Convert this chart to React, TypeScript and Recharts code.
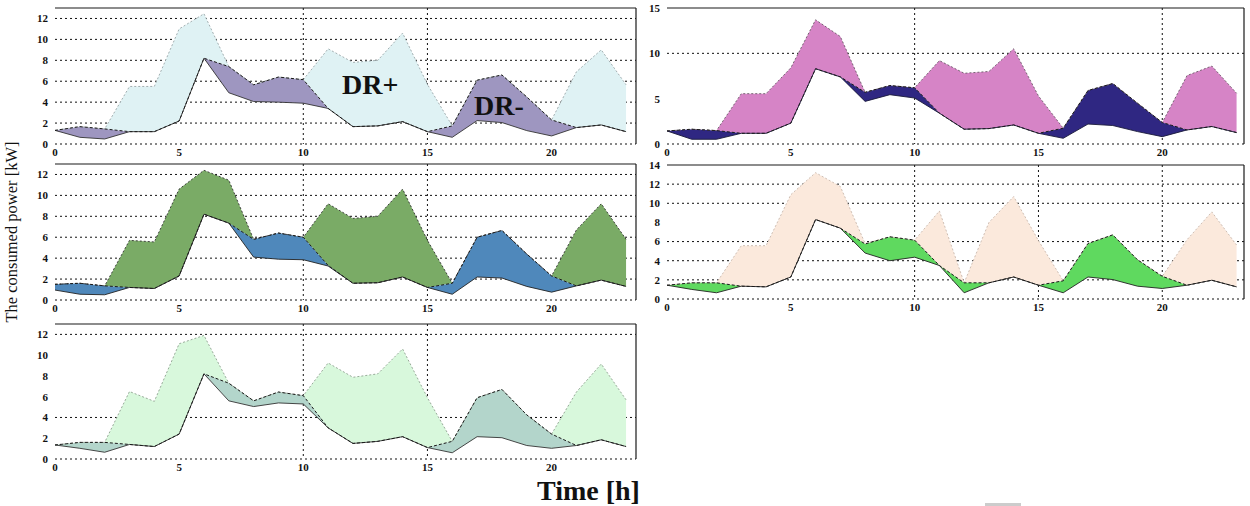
import { Area, CartesianGrid, ComposedChart, Line, ReferenceLine, XAxis, YAxis } from "recharts";

const SERIF = "'Liberation Serif', 'DejaVu Serif', serif";

const hours = [0, 1, 2, 3, 4, 5, 6, 7, 8, 9, 10, 11, 12, 13, 14, 15, 16, 17, 18, 19, 20, 21, 22, 23];
const xTicks = [0, 5, 10, 15, 20];

// panel 1 (top left) - base load, load with DR+, load with DR-
const p1Base = [1.3, 1.66, 1.44, 1.18, 1.18, 2.2, 8.2, 7.4, 5.66, 6.4, 6.15, 3.4, 1.66, 1.73, 2.14, 1.18, 1.73, 6.1, 6.6, 4.5, 2.3, 1.57, 1.82, 1.18];
const p1Up = [1.3, 1.66, 1.44, 5.5, 5.5, 11.0, 12.45, 7.4, 5.66, 6.4, 6.15, 9.1, 7.8, 8.0, 10.6, 5.7, 1.73, 6.1, 6.6, 4.5, 2.3, 6.9, 9.0, 5.66];
const p1Down = [1.3, 0.64, 0.48, 1.18, 1.18, 2.2, 8.2, 4.9, 4.06, 4.0, 3.9, 3.4, 1.66, 1.73, 2.14, 1.18, 0.64, 2.24, 2.05, 1.28, 0.77, 1.57, 1.82, 1.18];

// panel 2 (top right)
const p2Base = [1.44, 1.63, 1.48, 1.18, 1.18, 2.3, 8.3, 7.4, 5.7, 6.45, 6.2, 3.4, 1.63, 1.7, 2.1, 1.18, 1.74, 5.9, 6.67, 4.5, 2.37, 1.55, 1.93, 1.26];
const p2Up = [1.44, 1.63, 1.48, 5.55, 5.55, 8.4, 13.7, 11.85, 5.7, 6.45, 6.2, 9.2, 7.8, 8.0, 10.5, 5.3, 1.74, 5.9, 6.67, 4.5, 2.37, 7.55, 8.6, 5.6];
const p2Down = [1.44, 0.52, 0.52, 1.18, 1.18, 2.3, 8.3, 7.4, 4.7, 5.44, 5.07, 3.4, 1.63, 1.7, 2.1, 1.18, 0.63, 2.2, 2.04, 1.37, 0.81, 1.55, 1.93, 1.26];

// panel 3 (middle left)
const p3Base = [1.5, 1.6, 1.35, 1.2, 1.1, 2.3, 8.2, 7.35, 5.8, 6.4, 6.0, 3.3, 1.6, 1.65, 2.2, 1.2, 1.6, 6.0, 6.65, 4.4, 2.3, 1.35, 1.9, 1.3];
const p3Up = [1.5, 1.6, 1.35, 5.7, 5.55, 10.6, 12.4, 11.45, 5.8, 6.4, 6.0, 9.2, 7.8, 8.0, 10.6, 5.7, 1.6, 6.0, 6.65, 4.4, 2.3, 6.7, 9.2, 5.8];
const p3Down = [0.95, 0.55, 0.5, 1.2, 1.1, 2.3, 8.2, 7.35, 4.1, 3.9, 3.85, 3.25, 1.6, 1.65, 2.2, 1.2, 0.55, 2.2, 2.1, 1.3, 0.75, 1.35, 1.9, 1.3];

// panel 4 (middle right)
const p4Base = [1.44, 1.69, 1.69, 1.34, 1.27, 2.3, 8.3, 7.4, 5.75, 6.5, 6.15, 3.5, 1.69, 1.69, 2.3, 1.44, 1.9, 5.8, 6.7, 4.1, 2.37, 1.44, 1.96, 1.27];
const p4Up = [1.44, 1.69, 1.69, 5.57, 5.57, 10.9, 13.2, 11.75, 5.8, 6.5, 6.15, 9.2, 1.69, 8.0, 10.7, 6.1, 1.9, 5.8, 6.7, 4.1, 2.37, 6.2, 9.1, 5.64];
const p4Down = [1.44, 1.0, 0.65, 1.34, 1.27, 2.3, 8.3, 7.4, 4.8, 4.0, 4.37, 3.5, 0.65, 1.69, 2.3, 1.44, 0.65, 2.3, 2.03, 1.34, 1.1, 1.44, 1.96, 1.27];

// panel 5 (bottom left)
const p5Base = [1.35, 1.6, 1.6, 1.4, 1.2, 2.4, 8.2, 7.3, 5.6, 6.45, 6.1, 3.0, 1.5, 1.7, 2.15, 1.1, 1.7, 5.9, 6.7, 4.25, 2.4, 1.3, 1.85, 1.2];
const p5Up = [1.35, 1.6, 1.6, 6.5, 5.55, 11.1, 11.9, 7.3, 5.6, 6.45, 6.1, 9.25, 7.87, 8.2, 10.6, 5.9, 1.7, 5.9, 6.7, 4.25, 2.4, 6.45, 9.15, 5.7];
const p5Down = [1.35, 1.03, 0.65, 1.4, 1.2, 2.4, 8.2, 5.6, 5.05, 5.4, 5.3, 3.0, 1.5, 1.7, 2.15, 1.1, 0.6, 2.15, 2.05, 1.3, 1.03, 1.3, 1.85, 1.2];

type Row = { hour: number, base: number, up: number, down: number };

type PanelProps = {
  left: number,
  top: number,
  plotWidth: number,
  plotHeight: number,
  base: number[],
  up: number[],
  down: number[],
  xMax: number,
  yMax: number,
  yTicks: number[],
  gridY: number[],
  gridX: number[],
  plusFill: string,
  minusFill: string,
  plusEdge: string,
  minusEdge: string,
};

const Y_AXIS_W = 55;
const MARGIN_TOP = 8;
const MARGIN_RIGHT = 4;
const X_AXIS_H = 20;

const tickStyle = { fontFamily: SERIF, fontSize: 11, fontWeight: 700, fill: "#111" };

function LoadPanel(props: PanelProps) {
  const {
    left, top, plotWidth, plotHeight, base, up, down, xMax, yMax, yTicks,
    gridY, gridX, plusFill, minusFill, plusEdge, minusEdge,
  } = props;

  const rows: Row[] = hours.map((h, i) => ({ hour: h, base: base[i], up: up[i], down: down[i] }));
  const width = Y_AXIS_W + plotWidth + MARGIN_RIGHT;
  const height = MARGIN_TOP + plotHeight + X_AXIS_H;

  // horizontal grid only at the values the original figure shows
  const gridRows = (args: any) => {
    const scale = args?.yAxis?.scale;
    if (typeof scale === "function") return gridY.map((v) => scale(v));
    const off = args.offset;
    return gridY.map((v) => off.top + off.height * (1 - v / yMax));
  };

  return (
    <div style={{ position: "absolute", left, top }}>
      <ComposedChart
        width={width}
        height={height}
        data={rows}
        margin={{ top: MARGIN_TOP, right: MARGIN_RIGHT, bottom: 0, left: 0 }}
      >
        <CartesianGrid
          stroke="#111"
          strokeWidth={1}
          strokeDasharray="2 3"
          horizontalCoordinatesGenerator={gridRows}
          verticalValues={gridX}
        />
        <XAxis
          type="number"
          dataKey="hour"
          domain={[0, xMax]}
          allowDataOverflow
          ticks={xTicks}
          axisLine={false}
          tickLine={false}
          tickSize={0}
          tickMargin={4}
          height={X_AXIS_H}
          tick={tickStyle}
        />
        <YAxis
          type="number"
          domain={[0, yMax]}
          allowDataOverflow
          ticks={yTicks}
          axisLine={false}
          tickLine={false}
          tickSize={0}
          tickMargin={7}
          width={Y_AXIS_W}
          tick={tickStyle}
        />
        <Area
          dataKey={(d: Row) => [d.base, d.up]}
          type="linear"
          fill={plusFill}
          fillOpacity={1}
          stroke="none"
          isAnimationActive={false}
        />
        <Area
          dataKey={(d: Row) => [d.down, d.base]}
          type="linear"
          fill={minusFill}
          fillOpacity={1}
          stroke="none"
          isAnimationActive={false}
        />
        <Line dataKey="up" type="linear" stroke={plusEdge} strokeWidth={0.9} strokeDasharray="2 2" dot={false} activeDot={false} isAnimationActive={false} />
        <Line dataKey="down" type="linear" stroke={minusEdge} strokeWidth={0.9} dot={false} activeDot={false} isAnimationActive={false} />
        <Line dataKey="base" type="linear" stroke="#1a1a1a" strokeWidth={1} strokeDasharray="3 2" dot={false} activeDot={false} isAnimationActive={false} />
        <ReferenceLine y={yMax} stroke="#1a1a1a" strokeWidth={1.2} />
        <ReferenceLine x={xMax} stroke="#1a1a1a" strokeWidth={1.2} />
      </ComposedChart>
    </div>
  );
}

export default function App() {
  return (
    <div
      style={{
        position: "absolute",
        left: 0,
        top: 0,
        width: 1250,
        height: 506,
        background: "#fff",
        overflow: "hidden",
        fontFamily: SERIF,
      }}
    >
      <LoadPanel
        left={0} top={0} plotWidth={581} plotHeight={136}
        base={p1Base} up={p1Up} down={p1Down}
        xMax={23.4} yMax={13} yTicks={[0, 2, 4, 6, 8, 10, 12]}
        gridY={[0, 2, 4, 6, 8, 10, 12]} gridX={[10, 15]}
        plusFill="#dff2f4" minusFill="#9e96c0" plusEdge="#9aa6a8" minusEdge="#333"
      />
      <LoadPanel
        left={612} top={0} plotWidth={577} plotHeight={136}
        base={p2Base} up={p2Up} down={p2Down}
        xMax={23.3} yMax={15} yTicks={[0, 5, 10, 15]}
        gridY={[0, 10]} gridX={[10, 20]}
        plusFill="#d684c6" minusFill="#2f2782" plusEdge="#6a5a66" minusEdge="#1a1a3a"
      />
      <LoadPanel
        left={0} top={156} plotWidth={581} plotHeight={136}
        base={p3Base} up={p3Up} down={p3Down}
        xMax={23.4} yMax={13} yTicks={[0, 2, 4, 6, 8, 10, 12]}
        gridY={[0, 2, 4, 6, 8, 10, 12]} gridX={[10, 15]}
        plusFill="#7aab66" minusFill="#4f88bb" plusEdge="#333" minusEdge="#222"
      />
      <LoadPanel
        left={612} top={157} plotWidth={577} plotHeight={134}
        base={p4Base} up={p4Up} down={p4Down}
        xMax={23.3} yMax={14} yTicks={[0, 2, 4, 6, 8, 10, 12, 14]}
        gridY={[0, 2, 4, 6, 10, 12]} gridX={[10, 15, 20]}
        plusFill="#fbe9dc" minusFill="#5fd95f" plusEdge="#c8b8ad" minusEdge="#222"
      />
      <LoadPanel
        left={0} top={316} plotWidth={581} plotHeight={135}
        base={p5Base} up={p5Up} down={p5Down}
        xMax={23.4} yMax={13} yTicks={[0, 2, 4, 6, 8, 10, 12]}
        gridY={[0, 4, 12]} gridX={[10, 15]}
        plusFill="#d8f8dc" minusFill="#b3d5cb" plusEdge="#8fa090" minusEdge="#333"
      />

      <div style={{ position: "absolute", left: 342, top: 71, fontSize: 28, fontWeight: 700, color: "#111", lineHeight: 1 }}>DR+</div>
      <div style={{ position: "absolute", left: 474, top: 92, fontSize: 28, fontWeight: 700, color: "#111", lineHeight: 1 }}>DR-</div>
      <div style={{ position: "absolute", left: 537, top: 477, fontSize: 28, fontWeight: 700, color: "#111", lineHeight: 1 }}>Time [h]</div>
      <div
        style={{
          position: "absolute",
          left: 12,
          top: 232,
          transform: "translate(-50%, -50%) rotate(-90deg)",
          whiteSpace: "nowrap",
          fontSize: 16.5,
          color: "#111",
          lineHeight: 1,
        }}
      >
        The consumed power [kW]
      </div>
      <div style={{ position: "absolute", left: 985, top: 503, width: 36, height: 3, background: "#ccc" }} />
    </div>
  );
}
